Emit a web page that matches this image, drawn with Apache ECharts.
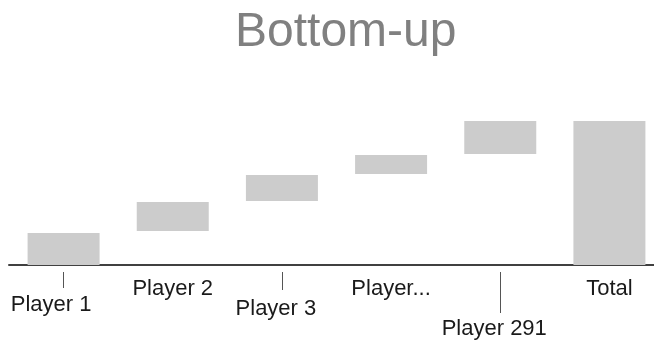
<!DOCTYPE html>
<html>
<head>
<meta charset="utf-8">
<style>
  html, body { margin: 0; padding: 0; background: #ffffff; }
  #chart { width: 654px; height: 342px; }
</style>
<script src="https://cdn.jsdelivr.net/npm/echarts@6/dist/echarts.min.js"></script>
</head>
<body>
<div id="chart"></div>
<script>
// Waterfall: each player's contribution floats on top of an invisible base.
const categories = ['Player 1', 'Player 2', 'Player 3', 'Player...', 'Player 291', 'Total'];
const barBase = [0, 34, 64, 91, 111, 0];
const barValue = [32, 29, 26, 19, 33, 144];

// Labels that drop below the row, and the leader tick drawn for each
const droppedLabels = { 0: 'lo1', 2: 'lo2', 4: 'lo3' };
const tickLengths = [[0, 16], [2, 18], [4, 41]];

const FONT = "'Liberation Sans', Arial, sans-serif";

const chart = echarts.init(document.getElementById('chart'), null, { renderer: 'canvas' });

const tickAxes = tickLengths.map(([idx, len]) => ({
  type: 'category',
  data: categories,
  position: 'bottom',
  offset: 7,
  axisLine: { show: false },
  axisLabel: { show: false },
  axisTick: {
    show: true,
    alignWithLabel: true,
    length: len,
    interval: (i) => i === idx,
    lineStyle: { color: '#555555', width: 1 }
  },
  splitLine: { show: false }
}));

chart.setOption({
  animation: false,
  backgroundColor: '#ffffff',
  title: {
    text: 'Bottom-up',
    left: 235,
    top: 9,
    padding: 0,
    textStyle: { fontFamily: FONT, fontSize: 48, fontWeight: 'normal', color: '#808080' }
  },
  grid: { left: 9, right: -10, top: 85, bottom: 77, containLabel: false, outerBoundsMode: 'none' },
  xAxis: [{
    type: 'category',
    data: categories,
    position: 'bottom',
    axisLine: { show: true, lineStyle: { color: '#404040', width: 2 } },
    axisTick: { show: false },
    axisLabel: {
      interval: 0,
      margin: 13,
      hideOverlap: false,
      fontFamily: FONT,
      fontSize: 22,
      color: '#1a1a1a',
      formatter: (value, index) => droppedLabels[index] ? '{' + droppedLabels[index] + '|' + value + '}' : value,
      rich: {
        lo1: { fontFamily: FONT, fontSize: 22, color: '#1a1a1a', padding: [16, 25, 0, 0] },
        lo2: { fontFamily: FONT, fontSize: 22, color: '#1a1a1a', padding: [20, 12, 0, 0] },
        lo3: { fontFamily: FONT, fontSize: 22, color: '#1a1a1a', padding: [40, 12, 0, 0] }
      }
    }
  }].concat(tickAxes),
  yAxis: { type: 'value', min: 0, max: 180, show: false },
  series: [
    {
      type: 'bar',
      stack: 'fall',
      data: barBase,
      barWidth: 72,
      itemStyle: { color: 'rgba(0,0,0,0)' },
      silent: true
    },
    {
      type: 'bar',
      stack: 'fall',
      data: barValue,
      barWidth: 72,
      itemStyle: { color: '#cccccc' }
    }
  ]
});
</script>
</body>
</html>
